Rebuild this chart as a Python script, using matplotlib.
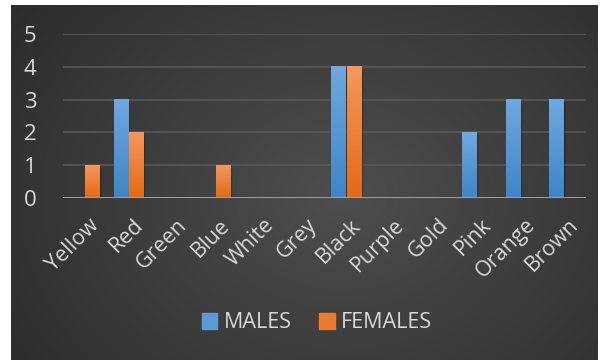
import numpy as np
import matplotlib.pyplot as plt
import matplotlib.transforms as mtransforms
from matplotlib.patches import Rectangle

plt.rcParams['font.family'] = ['Open Sans', 'DejaVu Sans']

colours = ["Yellow", "Red", "Green", "Blue", "White", "Grey", "Black",
           "Purple", "Gold", "Pink", "Orange", "Brown"]
males = [0, 3, 0, 0, 0, 0, 4, 0, 0, 2, 3, 3]
females = [1, 2, 0, 1, 0, 0, 4, 0, 0, 0, 0, 0]

txt = "#d9d9d9"
blue_top, blue_bot = np.array([0x70, 0xa8, 0xdf]) / 255, np.array([0x3f, 0x85, 0xc8]) / 255
orng_top, orng_bot = np.array([0xf4, 0x98, 0x5c]) / 255, np.array([0xe3, 0x6a, 0x16]) / 255

fig = plt.figure(figsize=(6.05, 3.6), dpi=100)
fig.patch.set_facecolor("white")

# dark radial background panel
bg = fig.add_axes([11 / 605, 0, 587 / 605, 355 / 360])
bg.set_axis_off()
yy, xx = np.mgrid[0:355, 0:587]
r = np.sqrt(((xx - 330) / 400.0) ** 2 + ((yy - 190) / 320.0) ** 2)
shade = np.clip(0.305 - 0.13 * r, 0.16, 0.305)
bg.imshow(np.dstack([shade] * 3), aspect="auto", extent=[0, 1, 0, 1])
bg.set_xlim(0, 1)
bg.set_ylim(0, 1)

ax = fig.add_axes([63 / 605, (360 - 198) / 360, 523 / 605, (198 - 34) / 360])
ax.patch.set_alpha(0)
x = np.arange(len(colours))
w = 0.33
gap = 0.02


def grad_bars(xs, vals, top, bot):
    bars = ax.bar(xs, vals, width=w, color="none", zorder=3)
    for b in bars:
        h = b.get_height()
        if h <= 0:
            continue
        x0, bw = b.get_x(), b.get_width()
        # soft drop shadow
        for k, a in enumerate([0.12, 0.09, 0.07, 0.05]):
            ax.add_patch(Rectangle((x0 + 0.02 + k * 0.012, -0.06 - k * 0.015), bw, h,
                                   color="black", alpha=a, lw=0, zorder=2))
        t = np.linspace(0, 1, 64)[:, None]
        img = top[None, :] * (1 - t[..., None]) + bot[None, :] * t[..., None]
        img = np.repeat(img, 2, axis=1)
        ax.imshow(img, extent=[x0, x0 + bw, 0, h], aspect="auto", zorder=3)
    return bars


grad_bars(x - w / 2 - gap / 2, males, blue_top, blue_bot)
grad_bars(x + w / 2 + gap / 2, females, orng_top, orng_bot)

ax.set_xlim(-0.5, len(colours) - 0.5)
ax.set_ylim(0, 5)
ax.set_yticks(range(6))
ax.yaxis.grid(True, color="#585858", lw=1.2, zorder=0)
ax.set_axisbelow(True)
ax.axhline(0, color="#a6a6a6", lw=2, zorder=4)
for s in ax.spines.values():
    s.set_visible(False)
ax.tick_params(length=0, colors=txt, labelsize=16)
ax.tick_params(axis="y", pad=19)
ax.set_xticks(x)
ax.set_xticklabels(colours, rotation=45, ha="right", va="top",
                   rotation_mode="anchor", color=txt, fontsize=15.5)
ax.tick_params(axis="x", pad=12)
shift = mtransforms.ScaledTranslation(4 / 100, 0, fig.dpi_scale_trans)
for lab in ax.get_xticklabels():
    lab.set_transform(lab.get_transform() + shift)

# legend
handles = [Rectangle((0, 0), 1, 1, color=blue_top * 0.6 + blue_bot * 0.4),
           Rectangle((0, 0), 1, 1, color=orng_top * 0.4 + orng_bot * 0.6)]
leg = fig.legend(handles, ["MALES", "FEMALES"], loc="center", ncol=2,
                 bbox_to_anchor=(317 / 605, 1 - 323 / 360), frameon=False,
                 fontsize=15.5, handlelength=0.7, handleheight=0.7,
                 handletextpad=0.3, columnspacing=1.3)
for t in leg.get_texts():
    t.set_color(txt)

fig.savefig("out.png", dpi=100, facecolor=fig.get_facecolor())
